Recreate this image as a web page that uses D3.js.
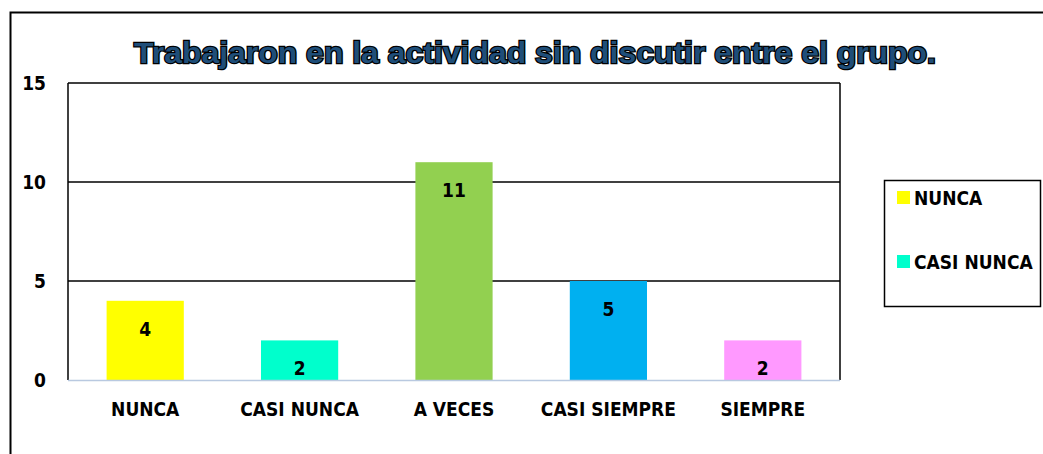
<!DOCTYPE html>
<html>
<head>
<meta charset="utf-8">
<script src="https://cdn.jsdelivr.net/npm/d3@7"></script>
<style>
  body { margin: 0; background: #fff; }
  svg { display: block; }
</style>
</head>
<body>
<script>
var categories = ["NUNCA", "CASI NUNCA", "A VECES", "CASI SIEMPRE", "SIEMPRE"];
var values = [4, 2, 11, 5, 2];
var colors = ["#ffff00", "#00ffcc", "#92d050", "#00b0f0", "#ff99ff"];
var yTicks = [0, 5, 10, 15];
var legendItems = ["NUNCA", "CASI NUNCA"];

var w = 1043, h = 454;
var padL = 68, padR = 840, padT = 83, padB = 380;
var labelFont = "'DejaVu Sans Condensed', 'DejaVu Sans', sans-serif";

var svg = d3.select("body").append("svg")
  .attr("width", w)
  .attr("height", h);

// outer frame (only left and top show)
svg.append("path")
  .attr("d", "M10.5," + (h + 5) + "V12.5H" + (w + 5))
  .attr("fill", "none")
  .attr("stroke", "#000")
  .attr("stroke-width", 2);

var xScale = d3.scaleBand()
  .domain(categories)
  .range([padL, padR])
  .paddingInner(0.5)
  .paddingOuter(0.25);

var yScale = d3.scaleLinear()
  .domain([0, 15])
  .range([padB, padT]);

// gridlines
svg.append("g")
  .selectAll("line")
  .data(yTicks.filter(function (d) { return d > 0; }))
  .enter()
  .append("line")
  .attr("x1", padL)
  .attr("x2", padR)
  .attr("y1", function (d) { return yScale(d); })
  .attr("y2", function (d) { return yScale(d); })
  .attr("stroke", "#000")
  .attr("stroke-width", 1.5);

// plot border sides
svg.append("line")
  .attr("x1", padL).attr("x2", padL)
  .attr("y1", padT).attr("y2", padB)
  .attr("stroke", "#000").attr("stroke-width", 1.5);
svg.append("line")
  .attr("x1", padR).attr("x2", padR)
  .attr("y1", padT).attr("y2", padB)
  .attr("stroke", "#000").attr("stroke-width", 1.5);

// bars
svg.append("g")
  .selectAll("rect")
  .data(values)
  .enter()
  .append("rect")
  .attr("x", function (d, i) { return xScale(categories[i]); })
  .attr("y", function (d) { return yScale(d); })
  .attr("width", xScale.bandwidth())
  .attr("height", function (d) { return yScale(0) - yScale(d); })
  .attr("fill", function (d, i) { return colors[i]; });

// base axis line
svg.append("line")
  .attr("x1", padL).attr("x2", padR)
  .attr("y1", padB + 0.5).attr("y2", padB + 0.5)
  .attr("stroke", "#b9c9e0").attr("stroke-width", 1.5);

// value labels
svg.append("g")
  .selectAll("text")
  .data(values)
  .enter()
  .append("text")
  .attr("x", function (d, i) { return xScale(categories[i]) + xScale.bandwidth() / 2; })
  .attr("y", function (d) { return yScale(d) + 35; })
  .attr("text-anchor", "middle")
  .attr("font-family", labelFont)
  .attr("font-weight", "bold")
  .attr("font-size", 19)
  .text(function (d) { return d; });

// y axis
var yAxis = d3.axisLeft(yScale)
  .tickValues(yTicks)
  .tickSize(0)
  .tickPadding(22);

svg.append("g")
  .attr("transform", "translate(" + padL + ",0)")
  .call(yAxis)
  .call(function (g) { g.select(".domain").remove(); })
  .selectAll("text")
  .attr("font-family", labelFont)
  .attr("font-weight", "bold")
  .attr("font-size", 19)
  .attr("fill", "#000");

// x axis
var xAxis = d3.axisBottom(xScale)
  .tickSize(0)
  .tickPadding(23);

svg.append("g")
  .attr("transform", "translate(0," + padB + ")")
  .call(xAxis)
  .call(function (g) { g.select(".domain").remove(); })
  .selectAll("text")
  .attr("font-family", labelFont)
  .attr("font-weight", "bold")
  .attr("font-size", 19)
  .attr("fill", "#000");

// title
svg.append("text")
  .attr("x", 535)
  .attr("y", 63)
  .attr("text-anchor", "middle")
  .attr("font-family", "'Liberation Sans', Arial, sans-serif")
  .attr("font-weight", "bold")
  .attr("font-size", 29)
  .attr("textLength", 802)
  .attr("lengthAdjust", "spacingAndGlyphs")
  .attr("fill", "#1f4e79")
  .attr("stroke", "#000")
  .attr("stroke-width", 2.4)
  .attr("paint-order", "stroke")
  .text("Trabajaron en la actividad sin discutir entre el grupo.");

// legend
var legend = svg.append("g");
legend.append("rect")
  .attr("x", 884.5).attr("y", 180.5)
  .attr("width", 156).attr("height", 126)
  .attr("fill", "#fff")
  .attr("stroke", "#000")
  .attr("stroke-width", 1.5);

var li = legend.selectAll("g.item")
  .data(legendItems)
  .enter()
  .append("g")
  .attr("class", "item")
  .attr("transform", function (d, i) { return "translate(897," + (198 + i * 64) + ")"; });

li.append("rect")
  .attr("x", 0).attr("y", -7)
  .attr("width", 13).attr("height", 13)
  .attr("fill", function (d, i) { return colors[i]; });

li.append("text")
  .attr("x", 17)
  .attr("y", 7)
  .attr("font-family", labelFont)
  .attr("font-weight", "bold")
  .attr("font-size", 19)
  .text(function (d) { return d; });
</script>
</body>
</html>
